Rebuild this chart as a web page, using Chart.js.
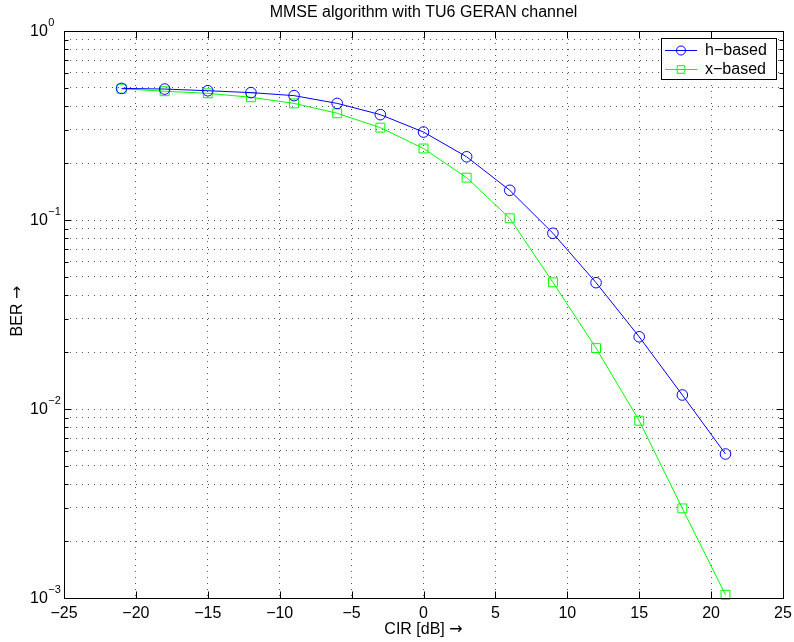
<!DOCTYPE html>
<html><head><meta charset="utf-8">
<script src="https://cdn.jsdelivr.net/npm/chart.js@4/dist/chart.umd.min.js"></script>
<style>html,body{margin:0;padding:0;background:#fff}#wrap{width:794px;height:642px}</style>
</head><body><div id="wrap"><canvas id="c" width="794" height="642"></canvas></div>
<script>
const titleText = 'MMSE algorithm with TU6 GERAN channel';
const xLabel = 'CIR [dB]';
const yLabel = 'BER';
const arrowGlyph = '\u2192';
const cirDb = [-21, -18, -15, -12, -9, -6, -3, 0, 3, 6, 9, 12, 15, 18, 21];
const berHBased = [0.497, 0.493, 0.483, 0.472, 0.455, 0.414, 0.361, 0.292, 0.216, 0.1436, 0.0851, 0.0466, 0.0241, 0.01186, 0.00578];
const berXBased = [0.495, 0.480, 0.468, 0.446, 0.414, 0.367, 0.308, 0.239, 0.1675, 0.1021, 0.0468, 0.0210, 0.00867, 0.00298, 0.00104];
const xTickValues = [-25, -20, -15, -10, -5, 0, 5, 10, 15, 20, 25];
const yDecadeExponents = [-3, -2, -1, 0];
const seriesNames = ['h\u2212based', 'x\u2212based'];

const FONT = '"Liberation Sans", Arial, Helvetica, sans-serif';
const ARROW_FONT = '"DejaVu Sans", sans-serif';

const yTickValues = [];
for (let i = 0; i < yDecadeExponents.length - 1; i++) {
  for (let m = 1; m < 10; m++) yTickValues.push(m * Math.pow(10, yDecadeExponents[i]));
}
yTickValues.push(Math.pow(10, yDecadeExponents[yDecadeExponents.length - 1]));

function fmtNum(v) { return v < 0 ? '\u2212' + Math.abs(v) : String(v); }

function drawLabelWithArrow(ctx, text, cx, cy, rot) {
  ctx.save();
  ctx.translate(cx, cy);
  ctx.rotate(rot);
  ctx.font = '16px ' + FONT;
  const w1 = ctx.measureText(text + ' ').width;
  ctx.font = '16px ' + ARROW_FONT;
  const w2 = ctx.measureText(arrowGlyph).width;
  const x0 = -(w1 + w2) / 2;
  ctx.fillStyle = '#000';
  ctx.textAlign = 'left';
  ctx.textBaseline = 'middle';
  ctx.font = '16px ' + FONT;
  ctx.fillText(text + ' ', x0, 0);
  ctx.font = '16px ' + ARROW_FONT;
  ctx.fillText(arrowGlyph, x0 + w1, 0);
  ctx.restore();
}

const frame = {
  id: 'matlabFrame',
  afterDraw(chart) {
    const ctx = chart.ctx, a = chart.chartArea;
    const xs = chart.scales.x, ys = chart.scales.y;
    ctx.save();
    ctx.strokeStyle = '#000';
    ctx.lineWidth = 1;
    ctx.setLineDash([]);
    const L = Math.round(a.left) + 0.5, R = Math.round(a.right) + 0.5;
    const T = Math.round(a.top) + 0.5, B = Math.round(a.bottom) + 0.5;
    ctx.strokeRect(L, T, R - L, B - T);
    ctx.beginPath();
    xTickValues.forEach(v => {
      const px = Math.round(xs.getPixelForValue(v)) + 0.5;
      ctx.moveTo(px, B); ctx.lineTo(px, B - 7);
      ctx.moveTo(px, T); ctx.lineTo(px, T + 7);
    });
    yTickValues.forEach(v => {
      const py = Math.round(ys.getPixelForValue(v)) + 0.5;
      const major = Math.abs(Math.log10(v) - Math.round(Math.log10(v))) < 1e-9;
      const len = major ? 7 : 4;
      ctx.moveTo(L, py); ctx.lineTo(L + len, py);
      ctx.moveTo(R, py); ctx.lineTo(R - len, py);
    });
    ctx.stroke();
    ctx.fillStyle = '#000';
    yDecadeExponents.forEach(e => {
      const py = ys.getPixelForValue(Math.pow(10, e));
      ctx.font = '16px ' + FONT;
      ctx.textAlign = 'left';
      ctx.textBaseline = 'middle';
      ctx.fillText('10', 30, py + 1);
      const w = ctx.measureText('10').width;
      ctx.font = '11px ' + FONT;
      ctx.textBaseline = 'alphabetic';
      ctx.fillText(e < 0 ? '\u2212' + Math.abs(e) : String(e), 30 + w + 0.5, py - 5);
    });
    // title
    ctx.font = '16px ' + FONT;
    ctx.textAlign = 'center';
    ctx.textBaseline = 'middle';
    ctx.fillText(titleText, (a.left + a.right) / 2, 13);
    // axis titles
    drawLabelWithArrow(ctx, xLabel, (a.left + a.right) / 2, 630, 0);
    drawLabelWithArrow(ctx, yLabel, 17.5, 311, -Math.PI / 2);
    // legend
    const lx = 661.5, ly = 38.5, lw = 115, lh = 41;
    ctx.fillStyle = '#fff';
    ctx.fillRect(lx, ly, lw, lh);
    ctx.strokeStyle = '#000';
    ctx.lineWidth = 1;
    ctx.strokeRect(lx, ly, lw, lh);
    chart.data.datasets.forEach((ds, i) => {
      const cy = 50.5 + i * 19;
      ctx.strokeStyle = ds.borderColor;
      ctx.lineWidth = 1;
      ctx.beginPath();
      ctx.moveTo(665, cy); ctx.lineTo(697, cy);
      ctx.stroke();
      ctx.fillStyle = 'rgba(0,0,0,0)';
      Chart.helpers.drawPoint(ctx, {pointStyle: ds.pointStyle, radius: ds.pointRadius * 0.85, rotation: 0, borderWidth: 1}, 681, cy);
      ctx.fillStyle = '#000';
      ctx.font = '16px ' + FONT;
      ctx.textAlign = 'left';
      ctx.textBaseline = 'middle';
      ctx.fillText(ds.label, 705, cy + 0.5);
    });
    ctx.restore();
  }
};

const mk = (xv, yv) => xv.map((x, i) => ({x: x, y: yv[i]}));

new Chart(document.getElementById('c'), {
  type: 'line',
  data: {
    datasets: [
      {label: seriesNames[0], data: mk(cirDb, berHBased), borderColor: '#0000ff', backgroundColor: 'rgba(0,0,0,0)',
       borderWidth: 1, pointStyle: 'circle', pointRadius: 5.3, pointBorderWidth: 1, pointBackgroundColor: 'rgba(0,0,0,0)', tension: 0, clip: false},
      {label: seriesNames[1], data: mk(cirDb, berXBased), borderColor: '#00ff00', backgroundColor: 'rgba(0,0,0,0)',
       borderWidth: 1, pointStyle: 'rect', pointRadius: 6.3, pointBorderWidth: 1, pointBackgroundColor: 'rgba(0,0,0,0)', tension: 0, clip: false}
    ]
  },
  options: {
    responsive: false,
    animation: false,
    devicePixelRatio: 1,
    layout: {padding: {left: 0, right: 11, top: 31, bottom: 0}},
    plugins: {
      legend: {display: false},
      tooltip: {enabled: false},
      title: {display: false}
    },
    scales: {
      x: {
        type: 'linear', min: -25, max: 25,
        afterBuildTicks(scale) { scale.ticks = xTickValues.map(v => ({value: v})); },
        afterFit(scale) { scale.height = 44; scale.paddingLeft = 0; scale.paddingRight = 0; },
        ticks: {color: '#000', font: {family: FONT, size: 16}, padding: 6, maxRotation: 0, autoSkip: false, callback: v => fmtNum(v)},
        grid: {color: '#555', lineWidth: 1, drawTicks: false},
        border: {display: false, dash: [1, 5]},
        title: {display: false}
      },
      y: {
        type: 'logarithmic', min: 0.001, max: 1,
        afterBuildTicks(scale) { scale.ticks = yTickValues.map(v => ({value: v})); },
        afterFit(scale) { scale.width = 64; scale.paddingTop = 0; scale.paddingBottom = 0; },
        ticks: {display: false},
        grid: {color: '#555', lineWidth: 1, drawTicks: false},
        border: {display: false, dash: [1, 5]},
        title: {display: false}
      }
    }
  },
  plugins: [frame]
});
</script></body></html>
